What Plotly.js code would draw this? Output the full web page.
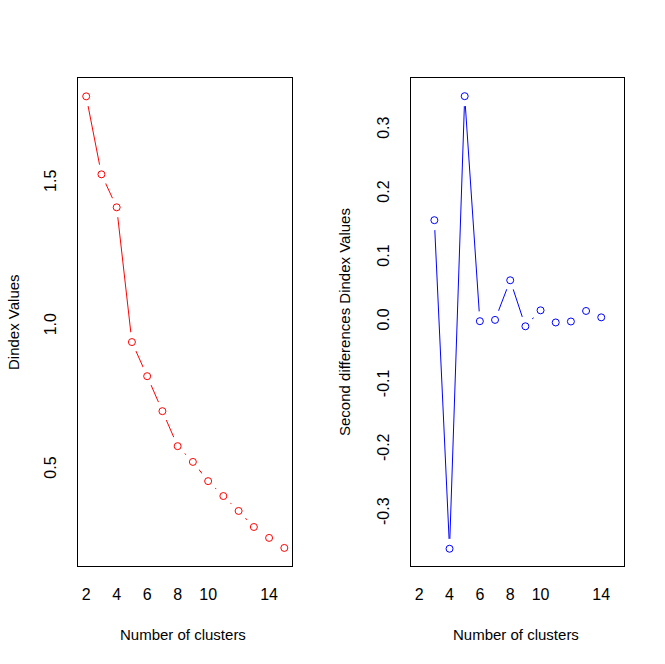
<!DOCTYPE html>
<html>
<head>
<meta charset="utf-8">
<script src="https://cdn.plot.ly/plotly-3.0.1.min.js"></script>
<style>html,body{margin:0;padding:0;background:#fff;}#chart{width:665px;height:664px;}</style>
</head>
<body>
<div id="chart"></div>
<script>
// Data
var clustersLeft = [2, 3, 4, 5, 6, 7, 8, 9, 10, 11, 12, 13, 14, 15];
var dindexValues = [1.803, 1.531, 1.416, 0.946, 0.827, 0.705, 0.583, 0.528, 0.461, 0.409, 0.357, 0.301, 0.263, 0.228];
var clustersRight = [3, 4, 5, 6, 7, 8, 9, 10, 11, 12, 13, 14];
var secondDiffValues = [0.159, -0.355, 0.353, 0.001, 0.003, 0.065, -0.007, 0.018, -0.001, 0.0005, 0.017, 0.007];
var xTickVals = [2, 4, 6, 8, 10, 14];
var yTickValsLeft = [0.5, 1.0, 1.5];
var yTickTextLeft = ["0.5", "1.0", "1.5"];
var yTickValsRight = [-0.3, -0.2, -0.1, 0.0, 0.1, 0.2, 0.3];
var yTickTextRight = ["-0.3", "-0.2", "-0.1", "0.0", "0.1", "0.2", "0.3"];

var FONT = "Liberation Sans, Arial, sans-serif";

function series(x, y, color, xa, ya) {
  return [
    {x: x, y: y, xaxis: xa, yaxis: ya, type: 'scatter', mode: 'lines',
     line: {color: color, width: 1}, hoverinfo: 'skip', showlegend: false},
    {x: x, y: y, xaxis: xa, yaxis: ya, type: 'scatter', mode: 'markers',
     marker: {symbol: 'circle', size: 20, color: '#ffffff', line: {width: 0}},
     hoverinfo: 'skip', showlegend: false, cliponaxis: true},
    {x: x, y: y, xaxis: xa, yaxis: ya, type: 'scatter', mode: 'markers',
     marker: {symbol: 'circle-open', size: 7, color: color, line: {width: 1, color: color}},
     showlegend: false}
  ];
}

var data = series(clustersLeft, dindexValues, '#ff0000', 'x', 'y')
  .concat(series(clustersRight, secondDiffValues, '#0000ff', 'x2', 'y2'));

var axisBase = {
  showgrid: false, zeroline: false, showline: true, mirror: true,
  linecolor: '#000', linewidth: 1, ticks: '',
  tickfont: {family: FONT, size: 16, color: '#000'}
};

function ax(extra) { return Object.assign({}, axisBase, extra); }

var layout = {
  width: 665, height: 664,
  margin: {l: 0, r: 0, t: 0, b: 0},
  paper_bgcolor: '#fff', plot_bgcolor: '#fff',
  font: {family: FONT, size: 15, color: '#000'},
  showlegend: false,
  xaxis: ax({domain: [0.1177, 0.4395], range: [1.48, 15.52], tickmode: 'array', tickvals: xTickVals, ticklabelstandoff: 14, anchor: 'y'}),
  yaxis: ax({domain: [0.1476, 0.8821], range: [0.165, 1.866], tickmode: 'array', tickvals: yTickValsLeft, ticktext: yTickTextLeft, tickangle: -90, ticklabelstandoff: 15, anchor: 'x'}),
  xaxis2: ax({domain: [0.6185, 0.9388], range: [1.48, 15.52], tickmode: 'array', tickvals: xTickVals, ticklabelstandoff: 14, anchor: 'y2'}),
  yaxis2: ax({domain: [0.1476, 0.8821], range: [-0.382, 0.381], tickmode: 'array', tickvals: yTickValsRight, ticktext: yTickTextRight, tickangle: -90, ticklabelstandoff: 15, anchor: 'x2'}),
  annotations: [
    {text: 'Number of clusters', xref: 'paper', yref: 'paper', x: 182.5/665, y: 1 - 634/664, xanchor: 'center', yanchor: 'middle', showarrow: false, font: {family: FONT, size: 15}},
    {text: 'Number of clusters', xref: 'paper', yref: 'paper', x: 516/665, y: 1 - 634/664, xanchor: 'center', yanchor: 'middle', showarrow: false, font: {family: FONT, size: 15}},
    {text: 'Dindex Values', xref: 'paper', yref: 'paper', x: 13/665, y: 1 - 322/664, xanchor: 'center', yanchor: 'middle', textangle: -90, showarrow: false, font: {family: FONT, size: 15}},
    {text: 'Second differences Dindex Values', xref: 'paper', yref: 'paper', x: 344/665, y: 1 - 322/664, xanchor: 'center', yanchor: 'middle', textangle: -90, showarrow: false, font: {family: FONT, size: 15}}
  ]
};

Plotly.newPlot('chart', data, layout, {displayModeBar: false, staticPlot: true});
</script>
</body>
</html>
